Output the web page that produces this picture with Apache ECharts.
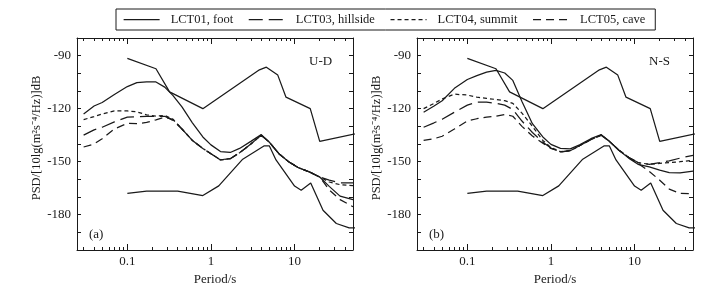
<!DOCTYPE html>
<html lang="en">
  <head>
    <meta charset="UTF-8" />
    <script src="https://cdn.jsdelivr.net/npm/echarts@6/dist/echarts.min.js"></script>
    <title>PSD</title>
  </head>
  <body style="margin: 0; background: #fff">
    <div id="app" style="width: 718px; height: 291px"></div>

    <script>
      // periods (s) shared by the station curves
      const periods = [0.03, 0.04, 0.05, 0.07, 0.1, 0.13, 0.17, 0.22, 0.28, 0.35, 0.45, 0.6, 0.8, 1.0, 1.3, 1.7, 2.2, 3.0, 4.0, 5.0, 6.5, 8.5, 11, 15, 20, 26, 35, 50];

      // U-D
      const udLCT01 = [-123, -118.5, -116.5, -112, -107.5, -105.3, -104.8, -104.9, -107.8, -112.5, -119, -128, -136, -140.5, -144.3, -144.8, -142.5, -138.5, -134.7, -139, -145.5, -150, -153.3, -155.8, -158.7, -164, -169.5, -171.5];
      const udLCT03 = [-135, -132, -130.5, -127.5, -124.8, -124.5, -124.3, -124.3, -124.3, -126.6, -131.5, -138, -142.5, -145.5, -149, -148.3, -145, -140, -135, -139, -145.5, -150, -153.3, -155.8, -158.7, -160.5, -162, -162];
      const udLCT04 = [-126.2, -124.5, -123, -121.3, -121.3, -121.8, -123.5, -124.2, -123.8, -126, -131.5, -138, -142.5, -145.5, -149, -148.3, -145, -140, -135, -139, -145.5, -150, -153.3, -155.8, -158.7, -161.5, -163, -163.5];
      const udLCT05 = [-141.7, -140, -137, -131.5, -128.3, -128.5, -127.8, -126.3, -124.8, -126, -131.5, -138, -142.5, -145.5, -149, -148.3, -145, -140, -135, -139, -145.5, -150, -153.3, -155.8, -158.7, -166, -171.5, -175.5];

      // N-S
      const nsLCT01 = [-122, -118.5, -115.5, -108.5, -103.5, -101.3, -99.3, -98.3, -99.8, -104, -116, -128.5, -136, -140.2, -142.5, -142.8, -140.5, -137, -134.7, -138.5, -143.5, -148, -151.5, -153, -154.8, -156.2, -156.3, -155.3];
      const nsLCT03 = [-130.5, -128, -126, -122, -118, -116.3, -116.3, -117, -118, -120.5, -127, -133.5, -139, -142.3, -144.5, -143.8, -141, -137.5, -135, -138.5, -143.5, -147.5, -150.5, -151.5, -150.5, -149.5, -148, -146.4];
      const nsLCT04 = [-120, -117, -114.5, -111.8, -112.3, -113.5, -114.2, -114.8, -115.5, -117, -122.5, -130, -138, -142, -144.3, -143.8, -141, -137.5, -135, -138.5, -143.5, -147.5, -150.5, -151.5, -151, -150.5, -150, -149.2];
      const nsLCT05 = [-138, -137, -135.6, -131.5, -127, -125.7, -124.8, -124.3, -123.3, -124.3, -130, -135.5, -139.5, -142.5, -144.5, -143.8, -141, -137.5, -135, -138.5, -143.5, -147.5, -151, -155.5, -160.5, -165.5, -168, -168.1];

      // Peterson new high / low noise models
      const nhnmT = [0.1, 0.22, 0.32, 0.8, 3.8, 4.6, 6.3, 7.9, 15.4, 20, 354.8];
      const nhnmDb = [-91.5, -97.4, -110.5, -120, -98, -96.5, -101, -113.5, -120, -138.5, -126];
      const nlnmT = [0.1, 0.17, 0.4, 0.8, 1.24, 2.4, 4.3, 5, 6, 10, 12, 15.6, 21.9, 31.6, 45, 70];
      const nlnmDb = [-168, -166.7, -166.7, -169.2, -163.7, -148.6, -141.1, -141.1, -149, -163.8, -166.2, -162.1, -177.5, -185, -187.5, -187.5];

      const names = ["LCT01, foot", "LCT03, hillside", "LCT04, summit", "LCT05, cave"];
      const dashes = ["solid", [14, 6], [4, 3], [8, 5]];
      const majorTicks = [0.1, 1, 10];
      const minorTicks = [0.03, 0.04, 0.05, 0.06, 0.07, 0.08, 0.09, 0.2, 0.3, 0.4, 0.5, 0.6, 0.7, 0.8, 0.9, 2, 3, 4, 5, 6, 7, 8, 9, 20, 30, 40];
      const yTitle = "PSD/[10lg(m²s⁻⁴/Hz)]dB";

      const font = "Liberation Serif";
      const ink = "#1a1a1a";
      const panels = [
        { left: 77, label: "U-D", tag: "(a)", curves: [udLCT01, udLCT03, udLCT04, udLCT05] },
        { left: 417, label: "N-S", tag: "(b)", curves: [nsLCT01, nsLCT03, nsLCT04, nsLCT05] },
      ];

      const echart = echarts.init(document.getElementById("app"));
      const grid = [], xAxis = [], yAxis = [], series = [], graphic = [];
      const pair = (xs, ys) => xs.map((t, i) => [t, ys[i]]);

      panels.forEach((p, k) => {
        const box = { left: p.left, top: 38, width: 276, height: 212 };
        grid.push(Object.assign({}, box), Object.assign({}, box));
        const g = k * 2;
        const xBase = { type: "log", logBase: 10, min: 0.025, max: 50, splitLine: { show: false } };
        // main grid: major ticks bottom/top
        xAxis.push(Object.assign({}, xBase, {
          gridIndex: g, position: "bottom",
          axisLine: { lineStyle: { color: ink, width: 1 } },
          axisTick: { inside: true, length: 6, customValues: majorTicks, lineStyle: { color: ink } },
          axisLabel: { customValues: majorTicks, margin: 5, color: ink, fontFamily: font, fontSize: 13, formatter: (v) => String(+v.toPrecision(3)) },
          name: "Period/s", nameLocation: "middle", nameGap: 18,
          nameTextStyle: { color: ink, fontFamily: font, fontSize: 13 },
        }));
        xAxis.push(Object.assign({}, xBase, {
          gridIndex: g, position: "top",
          axisLine: { lineStyle: { color: ink, width: 1 } },
          axisTick: { inside: true, length: 6, customValues: majorTicks, lineStyle: { color: ink } },
          axisLabel: { show: false },
        }));
        // overlay grid: minor ticks bottom/top
        xAxis.push(Object.assign({}, xBase, {
          gridIndex: g + 1, position: "bottom",
          axisLine: { show: false },
          axisTick: { inside: true, length: 3, customValues: minorTicks, lineStyle: { color: ink } },
          axisLabel: { show: false },
        }));
        xAxis.push(Object.assign({}, xBase, {
          gridIndex: g + 1, position: "top",
          axisLine: { show: false },
          axisTick: { inside: true, length: 3, customValues: minorTicks, lineStyle: { color: ink } },
          axisLabel: { show: false },
        }));

        const yBase = { type: "value", min: -200, max: -80, interval: 10, splitLine: { show: false } };
        yAxis.push(Object.assign({}, yBase, {
          gridIndex: g, position: "left",
          axisLine: { show: true, lineStyle: { color: ink, width: 1 } },
          axisTick: { inside: true, length: 4, lineStyle: { color: ink } },
          axisLabel: { margin: 6, color: ink, fontFamily: font, fontSize: 13, formatter: (v) => (v % 30 === 0 ? String(v) : "") },
          name: yTitle, nameLocation: "middle", nameGap: 34, nameRotate: 90,
          nameTextStyle: { color: ink, fontFamily: font, fontSize: 12.5, padding: [0, 0, 0, 12] },
        }));
        yAxis.push(Object.assign({}, yBase, {
          gridIndex: g, position: "right",
          axisLine: { show: true, lineStyle: { color: ink, width: 1 } },
          axisTick: { inside: true, length: 4, lineStyle: { color: ink } },
          axisLabel: { show: false },
        }));
        yAxis.push(Object.assign({}, yBase, { gridIndex: g + 1, show: false }));

        const xi = k * 4, yi = k * 3;
        p.curves.forEach((c, j) => {
          series.push({
            name: names[j], type: "line", xAxisIndex: xi, yAxisIndex: yi,
            symbol: "none", smooth: false, clip: true,
            lineStyle: { color: ink, width: 1.25, type: dashes[j] },
            itemStyle: { color: ink },
            data: pair(periods, c),
          });
        });
        series.push({
          name: "NHNM", type: "line", xAxisIndex: xi, yAxisIndex: yi, symbol: "none", clip: true,
          lineStyle: { color: ink, width: 1.25 }, data: pair(nhnmT, nhnmDb),
        });
        series.push({
          name: "NLNM", type: "line", xAxisIndex: xi, yAxisIndex: yi, symbol: "none", clip: true,
          lineStyle: { color: ink, width: 1.25 }, data: pair(nlnmT, nlnmDb),
        });

        graphic.push({
          type: "text", left: p.left + 232, top: 55,
          style: { text: p.label, fill: ink, font: "13px " + font },
        });
        graphic.push({
          type: "text", left: p.left + 12, top: 228,
          style: { text: p.tag, fill: ink, font: "13px " + font },
        });
      });

      echart.setOption({
        backgroundColor: "#fff",
        animation: false,
        grid: grid,
        xAxis: xAxis,
        yAxis: yAxis,
        legend: {
          data: names,
          left: 116, top: 9,
          padding: [4, 10, 4, 7],
          itemWidth: 36, itemHeight: 14, itemGap: 15,
          borderColor: ink, borderWidth: 1, borderRadius: 0,
          itemStyle: { opacity: 0 },
          lineStyle: { width: 1.25 },
          textStyle: { color: ink, fontFamily: font, fontSize: 12.5, padding: [0, 0, 0, 6] },
          selectedMode: false,
        },
        graphic: graphic,
        series: series,
      });
    </script>
  </body>
</html>
